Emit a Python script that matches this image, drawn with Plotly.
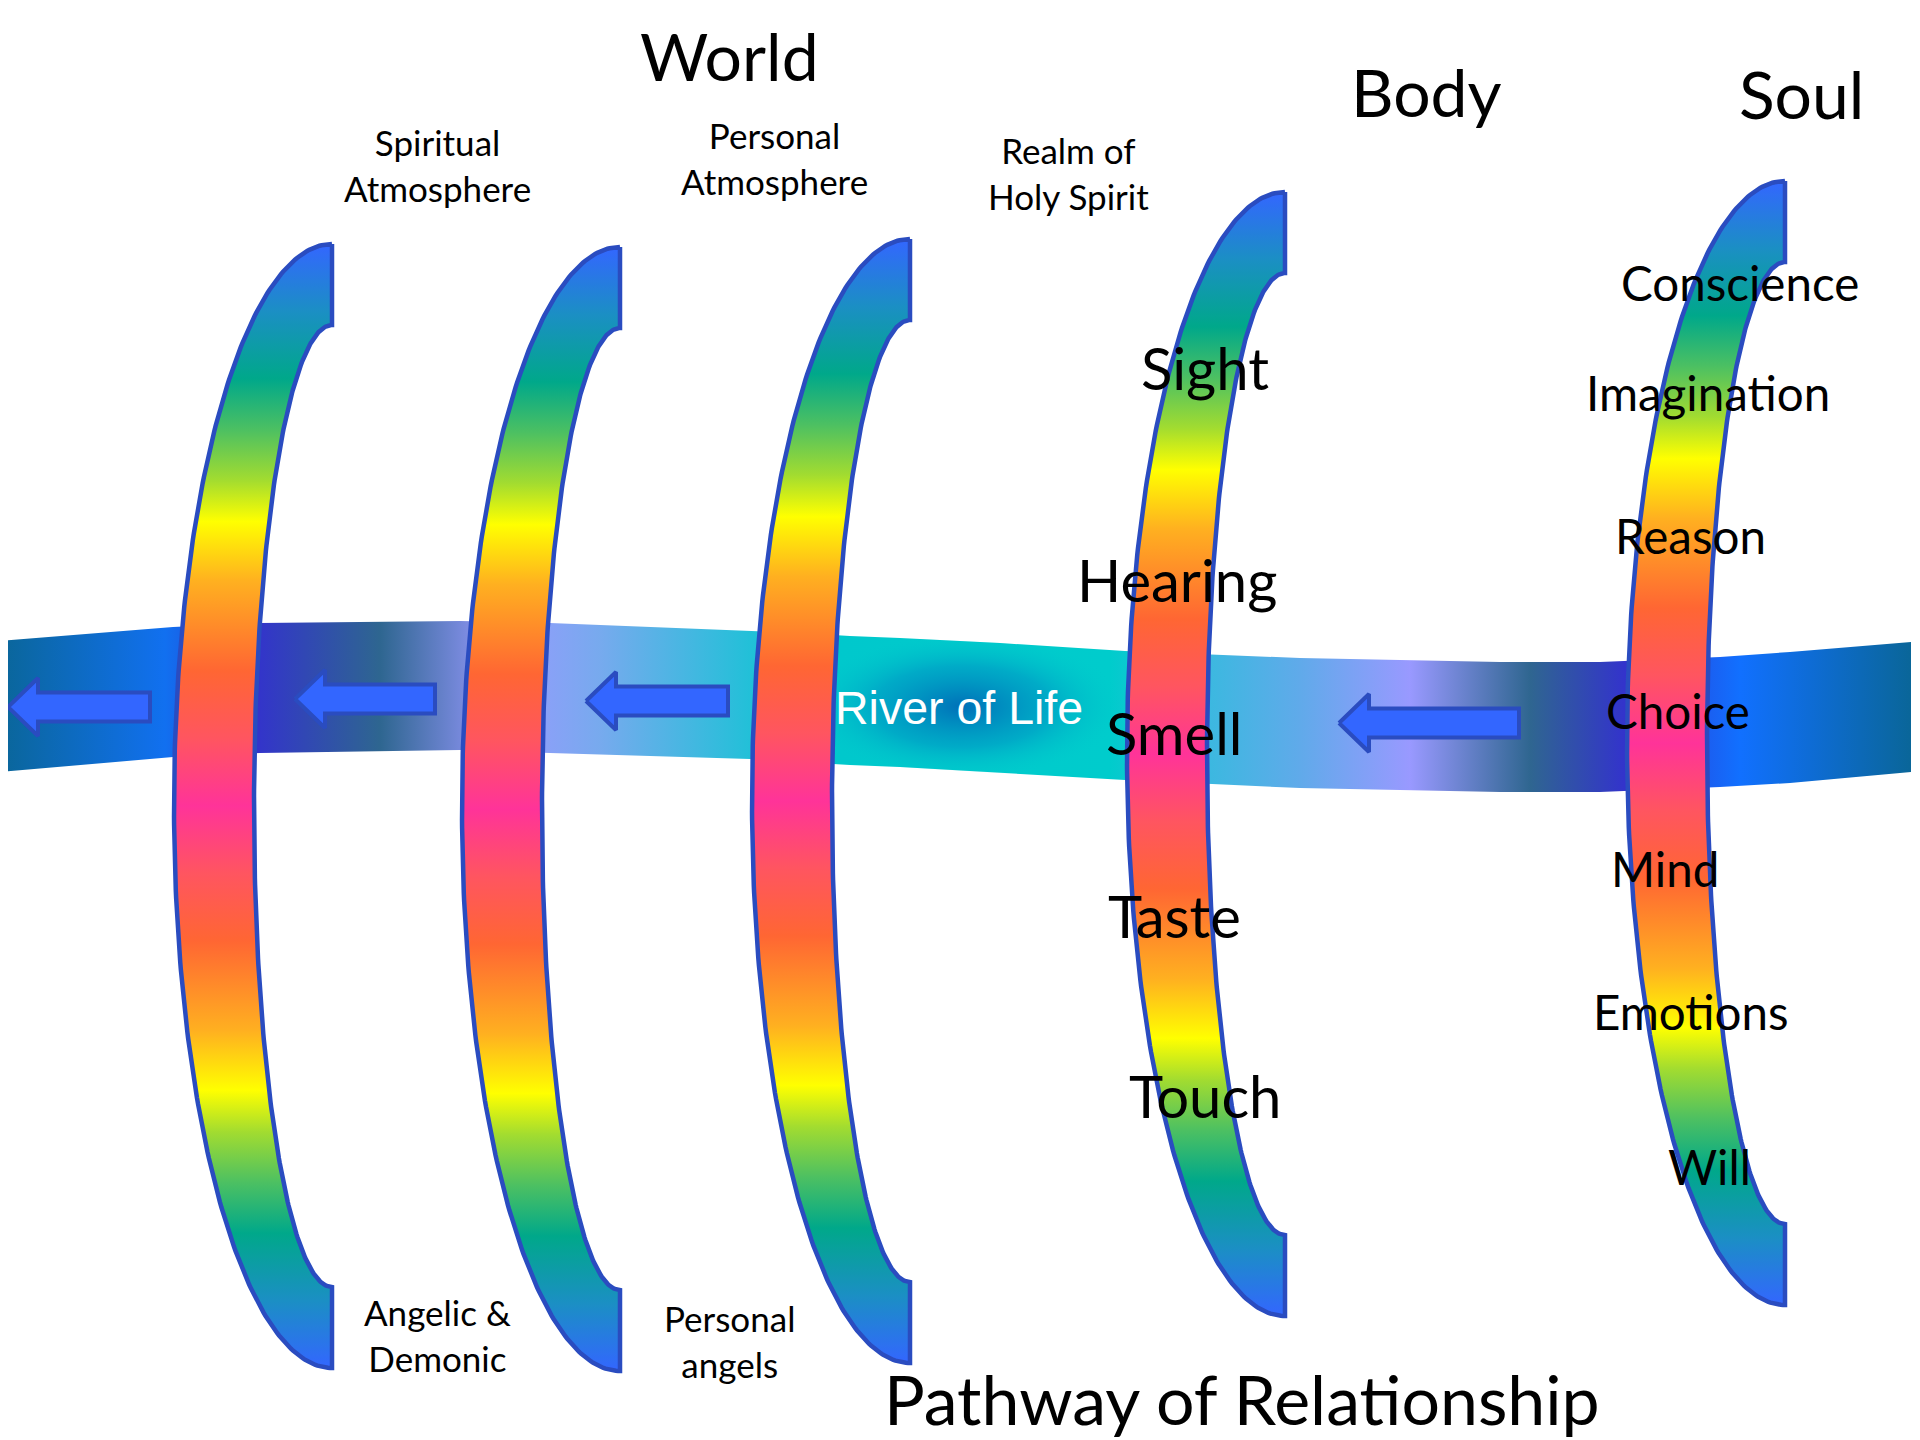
import numpy as np
import plotly.graph_objects as go

# ---------------- data ----------------
TITLE_TEXT = ["World", "Body", "Soul", "Pathway of Relationship"]
TITLE_X = [729, 1426, 1801, 1242]
TITLE_Y = [55, 91, 93, 1398]

SMALL_TEXT = ["Spiritual<br>Atmosphere", "Personal<br>Atmosphere", "Realm of<br>Holy Spirit",
              "Angelic &amp;<br>Demonic", "Personal<br>angels"]
SMALL_X = [437, 774, 1068, 437, 729]
SMALL_Y = [165, 158, 173, 1335, 1341]

BODY_SENSES = ["Sight", "Hearing", "Smell", "Taste", "Touch"]
BODY_X = [1205, 1177, 1174, 1174, 1205]
BODY_Y = [367, 579, 732, 915, 1095]

SOUL_PARTS = ["Conscience", "Imagination", "Reason", "Choice", "Mind", "Emotions", "Will"]
SOUL_X = [1740, 1708, 1690, 1678, 1665, 1691, 1709]
SOUL_Y = [282, 392, 535, 710, 868, 1011, 1166]

RIVER_LABEL = "River of Life"
RIVER_LABEL_X = 959
RIVER_LABEL_Y = 708

ARC_RIGHT_X = [332, 620, 910, 1285, 1785]
ARC_TOP_Y = [244, 247, 239, 192, 181]

RIVER_X = [0, 173, 260, 460, 550, 750, 800, 850, 900, 1000, 1125, 1300, 1500, 1600, 1720, 1790, 1911]
RIVER_TOP = [641, 627, 623, 621, 623, 631, 633, 636, 638, 643, 651, 658, 662, 662, 657, 652, 642]
RIVER_BOTTOM = [772, 757, 753, 750, 753, 759, 762, 765, 767, 773, 780, 788, 792, 792, 787, 783, 772]

ARROW_TIP_X = [8, 295, 586, 1339]
ARROW_TAIL_X = [150, 435, 728, 1519]
ARROW_Y = [707, 699, 701, 723]

# ---------------- styles ----------------
W, H = 1920, 1440
PAGE_OFFSET = 8  # default body margin of the html page
ARC_HEIGHT = 1124
ARC_OUTER_DEPTH = 158
ARC_INNER_DEPTH = 78
ARC_TIP = 81
EDGE = "#2a4cc0"
ARROW_FILL = "#3366ff"
HEAD_LEN = 30
HEAD_HALF = 29
SHAFT_HALF = 14.5

ARC_SCALE_HALF = [
    (0.00, "#3366ff"), (0.06, "#1b8fc4"), (0.12, "#00a88a"), (0.165, "#4cc062"),
    (0.21, "#a2dc30"), (0.247, "#ffff00"), (0.30, "#ffb020"), (0.38, "#ff6633"),
    (0.44, "#ff5560"), (0.50, "#ff3399"),
]
ARC_SCALE = ARC_SCALE_HALF + [(round(1 - p, 4), c) for p, c in reversed(ARC_SCALE_HALF[:-1])]

RIVER_STOPS = [
    (0, "#0a6699"), (165, "#1170f0"), (255, "#3333cc"), (380, "#2e6690"), (500, "#9999ff"),
    (600, "#77aaee"), (750, "#22c0d8"), (840, "#00c8cc"), (1110, "#00cccc"), (1210, "#3cb8e0"),
    (1300, "#60aaea"), (1410, "#9999ff"), (1530, "#2f6690"), (1625, "#3333cc"), (1740, "#1170ff"),
    (1911, "#0a6699"),
]
RIVER_SCALE = [(x / RIVER_STOPS[-1][0], c) for x, c in RIVER_STOPS]

fig = go.Figure()

# ---------------- river ----------------
rx = list(RIVER_X) + list(RIVER_X[::-1]) + [RIVER_X[0]]
ry = list(RIVER_TOP) + list(RIVER_BOTTOM[::-1]) + [RIVER_TOP[0]]
fig.add_trace(go.Scatter(
    x=rx, y=ry, mode="lines", fill="toself", line=dict(width=0, color="rgba(0,0,0,0)"),
    fillgradient=dict(type="horizontal", colorscale=RIVER_SCALE, start=RIVER_X[0], stop=RIVER_X[-1]),
    hoverinfo="skip", showlegend=False))

# darker pool around the label (radial)
sel = [i for i, x in enumerate(RIVER_X) if 800 <= x <= 1125]
px = [RIVER_X[i] for i in sel]
pt = [RIVER_TOP[i] for i in sel]
pb = [RIVER_BOTTOM[i] for i in sel]
fig.add_trace(go.Scatter(
    x=px + px[::-1] + [px[0]], y=pt + pb[::-1] + [pt[0]], mode="lines", fill="toself",
    line=dict(width=0, color="rgba(0,0,0,0)"),
    fillgradient=dict(type="radial", colorscale=[(0, "rgba(0,112,184,1)"), (0.55, "rgba(0,150,196,0.6)"),
                                                 (1, "rgba(0,204,204,0)")]),
    hoverinfo="skip", showlegend=False))

# ---------------- arrows ----------------
for tip, tail, yc in zip(ARROW_TIP_X, ARROW_TAIL_X, ARROW_Y):
    base = tip + HEAD_LEN
    ax = [tip, base, base, tail, tail, base, base, tip]
    ay = [yc, yc - HEAD_HALF, yc - SHAFT_HALF, yc - SHAFT_HALF, yc + SHAFT_HALF, yc + SHAFT_HALF,
          yc + HEAD_HALF, yc]
    fig.add_trace(go.Scatter(x=ax, y=ay, mode="lines", fill="toself", fillcolor=ARROW_FILL,
                             line=dict(color=EDGE, width=4), hoverinfo="skip", showlegend=False))

# ---------------- arcs ----------------
th = np.linspace(-np.pi / 2, np.pi / 2, 240)
B = ARC_HEIGHT / 2
b = (ARC_HEIGHT - 2 * ARC_TIP) / 2
for xr, top in zip(ARC_RIGHT_X, ARC_TOP_Y):
    yc = top + B
    ox = xr - ARC_OUTER_DEPTH * np.cos(th)
    oy = yc + B * np.sin(th)
    ix = xr - ARC_INNER_DEPTH * np.cos(th[::-1])
    iy = yc + b * np.sin(th[::-1])
    x = np.concatenate([ox, ix, [ox[0]]])
    y = np.concatenate([oy, iy, [oy[0]]])
    fig.add_trace(go.Scatter(
        x=x, y=y, mode="lines", fill="toself",
        fillgradient=dict(type="vertical", colorscale=ARC_SCALE, start=top, stop=top + ARC_HEIGHT),
        line=dict(color=EDGE, width=4.5), hoverinfo="skip", showlegend=False))

# ---------------- text ----------------
FONT = "Lato, 'Open Sans', sans-serif"
ann = []
def add(t, x, y, size, color="black", family=FONT):
    ann.append(dict(text=t, x=x, y=y, xref="x", yref="y", showarrow=False, xanchor="center",
                    yanchor="middle", align="center", font=dict(family=family, size=size, color=color)))

for t, x, y in zip(TITLE_TEXT[:3], TITLE_X[:3], TITLE_Y[:3]):
    add(t, x, y, 66)
add(TITLE_TEXT[3], TITLE_X[3], TITLE_Y[3], 68)
for t, x, y in zip(SMALL_TEXT, SMALL_X, SMALL_Y):
    add(t, x, y, 35)
for t, x, y in zip(BODY_SENSES, BODY_X, BODY_Y):
    add(t, x, y, 58)
for t, x, y in zip(SOUL_PARTS, SOUL_X, SOUL_Y):
    add(t, x, y, 47.5)
add(RIVER_LABEL, RIVER_LABEL_X, RIVER_LABEL_Y, 46.5, color="white",
    family="'Liberation Sans', Arial, sans-serif")

fig.update_layout(
    width=W, height=H, margin=dict(l=0, r=0, t=0, b=0),
    paper_bgcolor="white", plot_bgcolor="white", showlegend=False,
    xaxis=dict(range=[PAGE_OFFSET, W + PAGE_OFFSET], visible=False, fixedrange=True),
    yaxis=dict(range=[H + PAGE_OFFSET, PAGE_OFFSET], visible=False, fixedrange=True),
    annotations=ann,
)
fig.write_html("out.html", config={"displayModeBar": False})
